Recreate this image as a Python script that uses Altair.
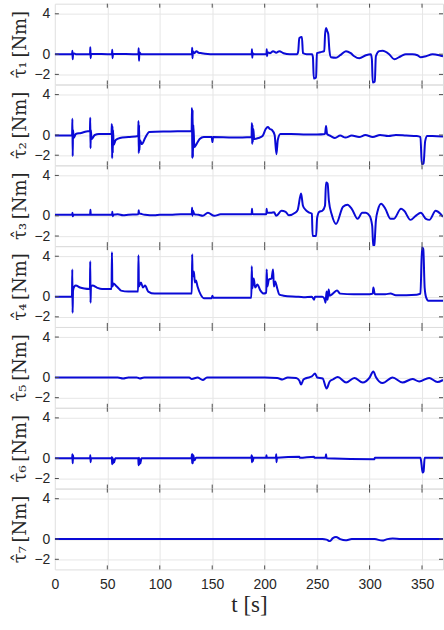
import altair as alt
import pandas as pd

X_TICKS = [0, 50, 100, 150, 200, 250, 300, 350]
X_INNER_TICKS = [50, 100, 150, 200, 250, 300, 350]
Y_TICKS = [-2, 0, 4]
X_DOMAIN = [0, 370]
Y_DOMAIN = [-3, 5]

tau1 = [(0, 0), (16.4, 0), (16.7, 0.35), (17.0, -0.5), (17.4, 0.1), (20, 0), (33.5, 0), (33.8, 0.7), (34.1, -0.4),
        (34.5, 0.05), (54.4, 0), (54.7, 0.45), (55.0, -0.4), (55.4, 0.05), (79.6, 0), (79.9, 0.6), (80.2, -0.65),
        (80.6, 0.2), (82, 0), (130.6, 0), (130.9, 0.65), (131.2, -0.4), (131.6, 0.3), (133, 0.1), (135, 0.3),
        (137, 0.15), (140, 0.1), (150, 0), (170, 0), (187.6, 0), (187.9, 0.5), (188.2, -0.35), (188.6, 0.1),
        (190, 0), (201.7, 0), (202.0, 0.5), (202.3, -0.2), (202.7, 0.2), (205, 0.1), (208, 0.3), (211, 0.15),
        (214, 0.3), (218, 0.1), (224, 0.0), (231, 0.0), (232, 0.3), (233, 1.6), (235.5, 1.7), (236.5, 0.1),
        (240, 0), (245.2, 0), (246, -0.3), (246.8, -2.4), (249, -2.3), (249.8, 0.1), (253, 0.2), (256.8, 0.3),
        (257.6, 2.0), (258.6, 2.6), (259.6, 2.3), (260.6, 2.0), (261.7, 0.4), (263.2, -0.3), (268, -0.35),
        (272, -0.1), (277.5, 0.3), (282, 0.1), (285.4, -0.2), (290.2, -0.4), (296.5, -0.1), (301.2, 0.0),
        (302.2, -0.5), (303, -2.8), (305, -2.7), (306, -0.2), (309.2, 0.3), (312.4, 0.35), (318.7, 0.0),
        (323.5, -0.5), (329.8, -0.2), (334.6, 0.0), (340.9, 0.0), (345.7, -0.1), (348.9, -0.3), (353.7, -0.2),
        (360, 0.0), (366.4, -0.1), (370, -0.2)]

tau2 = [(0, -0.05), (16.4, -0.05), (16.7, 1.6), (17.0, -2.1), (17.3, 0.5), (18, -0.3), (20, 0.1), (25, 0.2),
        (30, 0.35), (33.4, 0.4), (33.7, 1.7), (34.0, -1.3), (34.3, 0.5), (35, -0.4), (38, 0.0), (42, 0.1),
        (54.0, 0.1), (54.3, 1.1), (54.6, -2.3), (54.9, 0.9), (55.2, -1.8), (55.5, 0.5), (56, -1.0), (58, -0.5),
        (62, -0.3), (70, -0.2), (79.4, -0.1), (79.7, 1.4), (80.0, -1.8), (80.3, 1.0), (80.6, -1.5), (81, -0.5),
        (83, -0.9), (86, -0.3), (90, 0.3), (110, 0.35), (130.4, 0.4), (130.7, 2.7), (131.0, -2.3), (131.3, 2.5),
        (131.6, -2.2), (132, 1.0), (133, -1.2), (135, -0.9), (138, -0.4), (142, -0.2), (149.5, -0.2),
        (150.2, -0.7), (150.8, -0.2), (170, -0.25), (187.5, -0.2), (187.8, 1.2), (188.1, -0.9), (188.4, 1.0),
        (188.7, -0.7), (189.2, 0.6), (190, -0.4), (194, -0.3), (198, -0.1), (201, 0.6), (203, 0.8), (205, 0.6),
        (207, 0.5), (209.5, 0.0), (211.2, -1.9), (212.5, -0.5), (215, 0.1), (225, 0.1), (240, 0.05), (250, 0.05),
        (257.5, 0.1), (258.5, 0.9), (259.5, 0.1), (263, -0.1), (267, -0.3), (272, -0.05), (277, -0.25),
        (283, -0.05), (290, -0.2), (296, 0.0), (303, -0.2), (310, 0.0), (318, -0.1), (325, 0.0), (335, -0.05),
        (345, -0.1), (348.5, -0.2), (349.8, -2.9), (351.5, -2.8), (353, -0.6), (355, -0.1), (360, -0.1),
        (370, -0.15)]

tau3 = [(0, 0.1), (16.5, 0.1), (16.8, 0.3), (17.1, -0.05), (17.5, 0.1), (33.6, 0.1), (33.9, 0.6), (34.2, 0.1),
        (54.5, 0.1), (54.8, 0.4), (55.1, -0.05), (55.6, 0.1), (60, 0.15), (65, 0.05), (70, 0.1), (79.6, 0.15),
        (79.9, 0.55), (80.3, 0.25), (82, 0.2), (86, 0.1), (95, 0.05), (100, 0.1), (110, 0.1), (120, 0.15),
        (130.5, 0.15), (130.8, 0.8), (131.2, 0.0), (131.6, 0.5), (133, 0.15), (137, 0.1), (141, 0.0),
        (145.9, 0.3), (152, 0.0), (158, 0.15), (170, 0.15), (187.6, 0.15), (187.9, 0.7), (188.3, 0.2),
        (190, 0.15), (201.6, 0.15), (201.9, 0.7), (202.3, 0.3), (206, 0.3), (209, 0.35), (211, 0.0),
        (216, 0.5), (220, 0.4), (223, 0.05), (229, 0.3), (231.5, 0.6), (234.7, 2.2), (236.5, 1.0),
        (239, 0.6), (242, 0.35), (245, 0.2), (245.7, -2.0), (249, -2.0), (250, -0.2), (252, 0.4),
        (255, 0.5), (257.5, 1.0), (258.5, 3.3), (260, 3.2), (261.2, 1.5), (264, 0.1), (268, -0.8),
        (274.7, 0.9), (279, 1.1), (283, 0.7), (288.6, -0.3), (293, 0.3), (296.5, 0.3), (300, 0.0),
        (302.5, -1.0), (303.5, -3.0), (304.5, -2.9), (306, -0.5), (308, 0.6), (311, 1.2), (315, 0.7),
        (320, -0.3), (323, -0.3), (330, 0.7), (333, 0.5), (339, -0.4), (344, 0.0), (348.9, 0.3), (353.7, -0.3),
        (357, -0.4), (363, 0.5), (367.5, 0.2), (370, -0.1)]

tau4 = [(0, 0), (16.3, 0), (16.6, 2.7), (16.9, -1.6), (17.3, 0.6), (18.5, 1.0), (20, 1.1), (24, 0.9),
        (28, 0.8), (33.4, 0.75), (33.7, 3.5), (34.0, -0.6), (34.4, 1.0), (36, 1.1), (40, 0.9), (45, 0.75),
        (54.0, 0.75), (54.4, 4.4), (54.8, 1.0), (56, 1.3), (58, 1.1), (60, 0.9), (63, 0.6), (70, 0.5),
        (79.3, 0.5), (79.7, 4.1), (80.1, 1.0), (82, 1.4), (84, 0.9), (86, 1.1), (89, 0.5), (95, 0.3),
        (110, 0.3), (130.5, 0.3), (130.9, 4.2), (131.3, 2.0), (132.5, 2.5), (133.5, 1.4), (134.5, 1.6),
        (136, 1.0), (139, 0.2), (142, -0.15), (149.5, -0.15), (150.2, 0.1), (150.8, -0.1), (170, -0.1),
        (187.3, -0.1), (187.7, 3.0), (188.2, 0.8), (189.5, 1.8), (191, 0.9), (193, 1.2), (196, 0.6),
        (199, 0.3), (201.5, 0.4), (201.9, 2.7), (202.5, 1.0), (204, 1.7), (206.5, 1.8), (208.0, 2.7),
        (208.8, 1.0), (210, 1.5), (212, 0.8), (214, 0.2), (218, 0.1), (230, 0.0), (237, -0.05), (245, 0.0),
        (247, -0.3), (248, 0.0), (255, 0.0), (257, -0.2), (258, -0.6), (259, 0.5), (260, -0.3), (261, 0.7),
        (262, 0.1), (265, 0.3), (269, 0.6), (272, 0.3), (285, 0.25), (300, 0.25), (303.0, 0.3), (303.6, 0.9),
        (305, 0.25), (315, 0.25), (320, 0.3), (325, 0.15), (345, 0.2), (348.5, 0.3), (350, 4.9), (351.2, 4.7),
        (352.5, 0.9), (354, -0.1), (356, -0.4), (370, -0.4)]

tau5 = [(0, 0), (60, 0), (65, -0.1), (70, 0), (78, 0), (81, -0.1), (85, 0), (128, 0), (130.5, -0.15),
        (136, 0), (141, -0.25), (145, 0), (200, 0), (212, -0.05), (217, -0.2), (222, 0), (230, -0.05),
        (233, -0.3), (234.7, -0.7), (237, -0.2), (240, -0.05), (245, 0.1), (248, 0.4), (250, 0.0),
        (255.3, -0.1), (259, -1.1), (262, -0.4), (265, -0.2), (269.7, 0.05), (277.6, -0.5), (285.5, -0.05),
        (293.5, -0.5), (299.8, -0.05), (303.6, 0.6), (306, 0.05), (312.4, -0.55), (321.9, 0.0),
        (331.4, -0.5), (340.9, -0.15), (347.3, -0.4), (356.8, -0.05), (364.7, -0.45), (370, -0.25)]

tau6 = [(0, 0), (16.5, 0), (16.7, 0.4), (17.0, -0.5), (17.3, 0.3), (17.6, 0), (33.6, 0), (33.8, 0.3),
        (34.1, -0.4), (34.4, 0), (54.0, 0), (54.3, 0.1), (54.6, -0.6), (55.0, 0.05), (55.4, -0.5),
        (55.8, -0.1), (56.5, -0.4), (57.5, 0), (79.5, 0), (79.8, -0.7), (80.2, 0.05), (80.6, -0.6),
        (81.0, -0.1), (81.5, -0.5), (82.5, 0), (130.3, 0), (130.6, 0.4), (130.9, -0.5), (131.2, 0.4),
        (131.5, -0.5), (132, 0.3), (133, -0.2), (134.5, 0.05), (187.3, 0.05), (187.6, 0.3), (187.9, -0.4),
        (188.2, 0.2), (188.6, -0.3), (189.5, 0.05), (201.4, 0.05), (201.7, 0.3), (202, 0.05), (210.7, 0.05),
        (211, 0.4), (211.3, -0.4), (211.7, 0.05), (233, 0.15), (233.5, 0.05), (247, 0.15), (247.5, 0.05),
        (258, 0.05), (258.5, 0.4), (259, 0.0), (304.5, -0.1), (305, 0.05), (348.5, 0.05), (349.5, -0.6),
        (350.5, -1.4), (351.5, -1.3), (352.5, 0.05), (370, 0.05)]

tau7 = [(0, 0), (255, 0), (259, -0.05), (262, -0.2), (265, 0.1), (268, 0.2), (272, 0.0), (277, -0.12),
        (283, 0.0), (305, 0.0), (312, -0.15), (317, 0.0), (322, 0.05), (330, 0.0), (370, 0.0)]

PANELS = [tau1, tau2, tau3, tau4, tau5, tau6, tau7]
SUBSCRIPTS = ["\u2081", "\u2082", "\u2083", "\u2084", "\u2085", "\u2086", "\u2087"]

W, H = 389, 81
LINE_COLOR = "#0a0ad6"
GRID_COLOR = "#e6e6e6"
TEXT_COLOR = "#262626"
FRAME_COLOR = "#4d4d4d"
TICK_LEN = 4


def make_panel(k, pts, last):
    df = pd.DataFrame(pts, columns=["t", "v"])
    xaxis_kw = dict(values=X_TICKS, grid=True, gridColor=GRID_COLOR, domain=False, ticks=False,
                    tickSize=0, labels=last, title="")
    if last:
        xaxis_kw.update(title="t [s]", titleFont="Liberation Serif", titleFontSize=23,
                        titleFontWeight="normal", titleColor=TEXT_COLOR, labelFont="Liberation Sans",
                        labelFontSize=14, labelColor=TEXT_COLOR, labelPadding=8, titlePadding=2,
                        labelFlush=False)
    yaxis_kw = dict(values=Y_TICKS, grid=True, gridColor=GRID_COLOR, domain=False, ticks=False, tickSize=0,
                    labelFont="Liberation Sans", labelFontSize=14, labelColor=TEXT_COLOR, labelPadding=5,
                    title="\u03c4\u0302" + SUBSCRIPTS[k] + "\u2009[Nm]", titleFont="DejaVu Serif",
                    titleFontSize=18, titleFontWeight="normal", titleColor=TEXT_COLOR, titlePadding=4)
    line = alt.Chart(df).mark_line(color=LINE_COLOR, strokeWidth=2, clip=True,
                                   interpolate="monotone").encode(
        x=alt.X("t:Q", scale=alt.Scale(domain=X_DOMAIN, nice=False, zero=False), axis=alt.Axis(**xaxis_kw)),
        y=alt.Y("v:Q", scale=alt.Scale(domain=Y_DOMAIN, nice=False, zero=False), axis=alt.Axis(**yaxis_kw)),
    )
    xt = pd.DataFrame({"t": X_INNER_TICKS})
    yt = pd.DataFrame({"v": Y_TICKS})
    xb = alt.Chart(xt).mark_rule(color=FRAME_COLOR, strokeWidth=1).encode(
        x="t:Q", y=alt.value(H - TICK_LEN), y2=alt.value(H))
    xtop = alt.Chart(xt).mark_rule(color=FRAME_COLOR, strokeWidth=1).encode(
        x="t:Q", y=alt.value(0), y2=alt.value(TICK_LEN))
    yl = alt.Chart(yt).mark_rule(color=FRAME_COLOR, strokeWidth=1).encode(
        y="v:Q", x=alt.value(0), x2=alt.value(TICK_LEN))
    yr = alt.Chart(yt).mark_rule(color=FRAME_COLOR, strokeWidth=1).encode(
        y="v:Q", x=alt.value(W - TICK_LEN), x2=alt.value(W))
    return alt.layer(line, xb, xtop, yl, yr).properties(width=W, height=H)


panels = [make_panel(k, p, k == len(PANELS) - 1) for k, p in enumerate(PANELS)]

chart = alt.vconcat(*panels, spacing=0, bounds="flush").properties(
    padding={"left": 11, "top": 2, "right": 0, "bottom": 0}
).configure_view(stroke=FRAME_COLOR, strokeWidth=1).configure(background="white")

chart.save("out.html", embed_options={"renderer": "svg", "actions": False})
